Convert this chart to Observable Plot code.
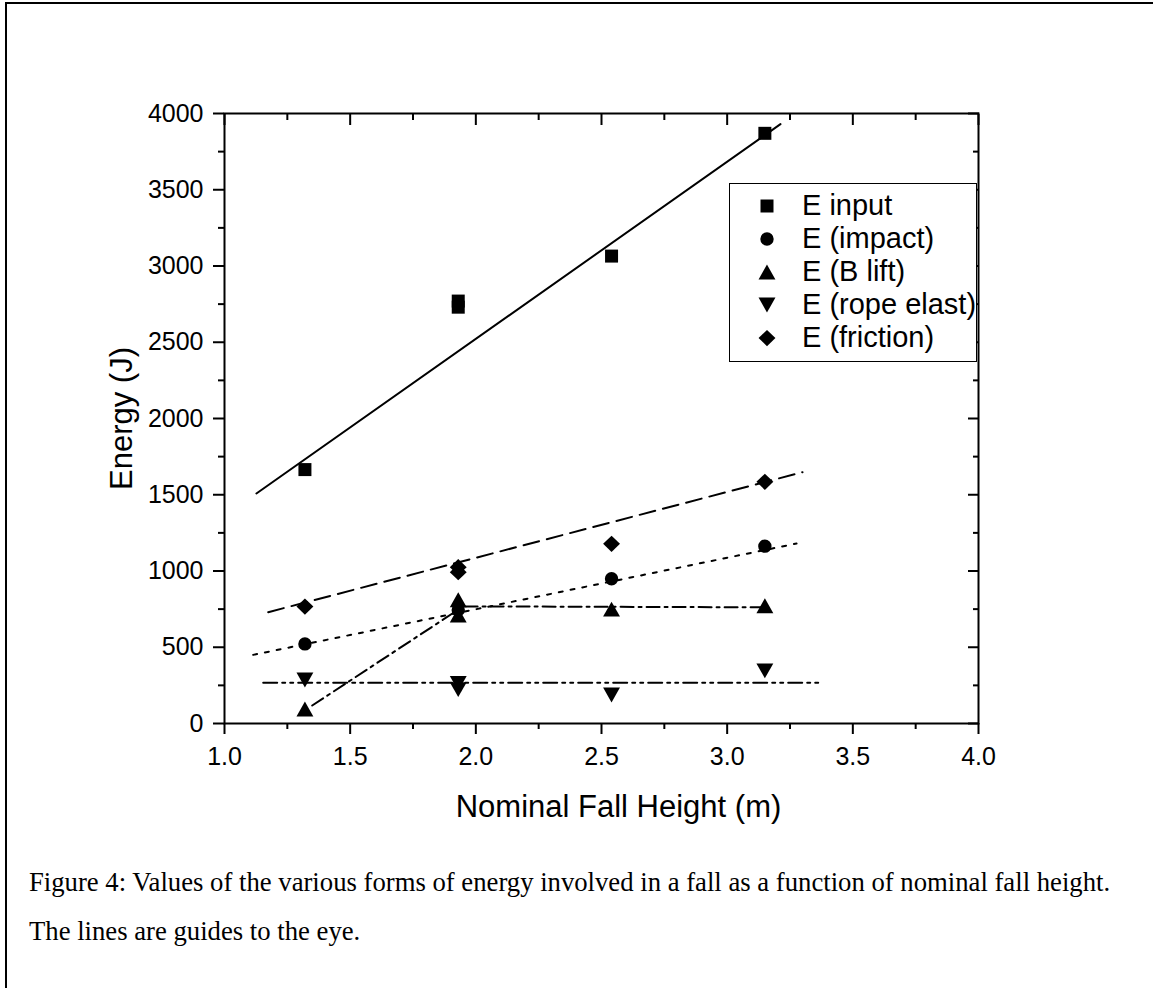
<!DOCTYPE html>
<html>
<head>
<meta charset="utf-8">
<script src="https://cdn.jsdelivr.net/npm/d3@7"></script>
<script src="https://cdn.jsdelivr.net/npm/@observablehq/plot@0.6"></script>
<style>
  html, body { margin: 0; padding: 0; background: #fff; }
  #fig { position: relative; width: 1153px; height: 988px; overflow: hidden; }
  #chart { position: absolute; left: 0; top: 0; }
  .bt { position: absolute; left: 5px; top: 2px; width: 1148px; height: 2px; background: #000; }
  .bl { position: absolute; left: 5px; top: 2px; width: 2px; height: 986px; background: #000; }
  #legend { position: absolute; left: 729px; top: 183px; width: 248px; height: 179px;
            border: 1px solid #000; background: #fff; box-sizing: border-box;
            font-family: "Liberation Sans", Arial, sans-serif; font-size: 29px; color: #000; }
  .row { position: absolute; left: 0; height: 33px; line-height: 33px; white-space: nowrap; }
  .row svg { position: absolute; left: 26px; top: 6px; }
  .row span { position: absolute; left: 72px; top: 0; }
  #caption { position: absolute; left: 29px; top: 858px; width: 1120px;
             font-family: "Liberation Serif", "Times New Roman", serif; font-size: 26.7px;
             line-height: 49px; color: #000; white-space: nowrap; }
</style>
</head>
<body>
<div id="fig">
  <div class="bt"></div>
  <div class="bl"></div>
  <div id="chart"></div>
  <div id="legend"></div>
  <div id="caption">Figure 4: Values of the various forms of energy involved in a fall as a function of nominal fall height.<br>The lines are guides to the eye.</div>
</div>
<script>
// ---------- data ----------
const seriesNames = ["E input", "E (impact)", "E (B lift)", "E (rope elast)", "E (friction)"];

const inputX = [1.32, 1.93, 1.93, 2.54, 3.15];
const inputY = [1665, 2770, 2730, 3065, 3870];

const impactX = [1.32, 1.93, 2.54, 3.15];
const impactY = [522, 745, 949, 1163];

const liftX = [1.32, 1.93, 1.93, 2.54, 3.15];
const liftY = [95, 812, 712, 750, 772];

const ropeX = [1.32, 1.93, 1.93, 2.54, 3.15];
const ropeY = [285, 262, 222, 187, 345];

const frictionX = [1.32, 1.93, 1.93, 2.54, 3.15];
const frictionY = [767, 1025, 992, 1178, 1585];

// guide-to-the-eye lines
const guideInputX = [1.127, 3.212];
const guideInputY = [1508, 3930];
const guideFrictionX = [1.174, 3.30];
const guideFrictionY = [730, 1648];
const guideImpactX = [1.114, 3.276];
const guideImpactY = [450, 1180];
const guideLiftX = [1.349, 1.95, 3.15];
const guideLiftY = [118, 768, 762];
const guideRopeX = [1.154, 3.365];
const guideRopeY = [267, 267];

// ticks
const xMajor = [1.0, 1.5, 2.0, 2.5, 3.0, 3.5, 4.0];
const xMinor = [1.25, 1.75, 2.25, 2.75, 3.25, 3.75];
const yMajor = [0, 500, 1000, 1500, 2000, 2500, 3000, 3500, 4000];
const yMinor = [250, 750, 1250, 1750, 2250, 2750, 3250, 3750];

const xTitle = "Nominal Fall Height (m)";
const yTitle = "Energy (J)";

// ---------- symbols (Origin-like, centred on their bounding box) ----------
const rad = size => Math.sqrt(size / Math.PI);
const symSquare = {draw(c, size) { const s = rad(size); c.moveTo(-s, -s); c.lineTo(s, -s); c.lineTo(s, s); c.lineTo(-s, s); c.closePath(); }};
const symCircle = {draw(c, size) { const s = rad(size) * 1.03; c.moveTo(s, 0); c.arc(0, 0, s, 0, 2 * Math.PI); }};
const symUp = {draw(c, size) { const s = rad(size); c.moveTo(0, -1.15 * s); c.lineTo(1.3 * s, 1.15 * s); c.lineTo(-1.3 * s, 1.15 * s); c.closePath(); }};
const symDown = {draw(c, size) { const s = rad(size); c.moveTo(0, 1.15 * s); c.lineTo(1.3 * s, -1.15 * s); c.lineTo(-1.3 * s, -1.15 * s); c.closePath(); }};
const symDiamond = {draw(c, size) { const s = rad(size); c.moveTo(0, -1.25 * s); c.lineTo(1.3 * s, 0); c.lineTo(0, 1.25 * s); c.lineTo(-1.3 * s, 0); c.closePath(); }};
const symbols = [symSquare, symCircle, symUp, symDown, symDiamond];
const R = 6.5;

const pts = (xs, ys) => xs.map((x, i) => ({x, y: ys[i]}));

const series = [
  pts(inputX, inputY), pts(impactX, impactY), pts(liftX, liftY), pts(ropeX, ropeY), pts(frictionX, frictionY)
];
const guides = [
  {d: pts(guideInputX, guideInputY), dash: null},
  {d: pts(guideFrictionX, guideFrictionY), dash: "16,8"},
  {d: pts(guideImpactX, guideImpactY), dash: "4,8"},
  {d: pts(guideLiftX, guideLiftY), dash: "13,5,3,5"},
  {d: pts(guideRopeX, guideRopeY), dash: "14,5,3,5,3,5"}
];

const W = 1153, H = 830;
const fontFam = '"Liberation Sans", Arial, sans-serif';
const blank = () => "";

const marks = [];
guides.forEach(g => marks.push(Plot.line(g.d, {x: "x", y: "y", stroke: "#000", strokeWidth: 2, strokeDasharray: g.dash})));
series.forEach((s, i) => marks.push(Plot.dot(s, {x: "x", y: "y", r: R, symbol: () => symbols[i], fill: "#000", stroke: "none"})));

marks.push(
  Plot.frame({stroke: "#000", strokeWidth: 2}),
  // bottom axis (outward)
  Plot.axisX({anchor: "bottom", ticks: xMajor, tickSize: 11, tickPadding: 13, tickFormat: d3.format(".1f"), fontSize: 25, strokeWidth: 2, label: null}),
  Plot.axisX({anchor: "bottom", ticks: xMinor, tickSize: 6, tickFormat: blank, strokeWidth: 2, label: null}),
  // top axis (inward)
  Plot.axisX({anchor: "top", ticks: xMajor, tickSize: -11, tickFormat: blank, strokeWidth: 2, label: null}),
  Plot.axisX({anchor: "top", ticks: xMinor, tickSize: -6, tickFormat: blank, strokeWidth: 2, label: null}),
  // left axis (outward)
  Plot.axisY({anchor: "left", ticks: yMajor, tickSize: 11, tickPadding: 10, tickFormat: d3.format("d"), fontSize: 25, strokeWidth: 2, label: null}),
  Plot.axisY({anchor: "left", ticks: yMinor, tickSize: 6, tickFormat: blank, strokeWidth: 2, label: null}),
  // right axis (inward)
  Plot.axisY({anchor: "right", ticks: yMajor, tickSize: -11, tickFormat: blank, strokeWidth: 2, label: null}),
  Plot.axisY({anchor: "right", ticks: yMinor, tickSize: -6, tickFormat: blank, strokeWidth: 2, label: null}),
  // axis titles
  Plot.text([xTitle], {text: d => d, frameAnchor: "bottom", dy: 84, dx: 17, lineAnchor: "middle", fontSize: 31}),
  Plot.text([yTitle], {text: d => d, frameAnchor: "left", dx: -102, rotate: -90, lineAnchor: "middle", textAnchor: "middle", fontSize: 31})
);

const chart = Plot.plot({
  width: W,
  height: H,
  marginLeft: 224,
  marginRight: W - 978,
  marginTop: 113,
  marginBottom: H - 723,
  x: {domain: [1, 4]},
  y: {domain: [0, 4000]},
  style: {fontFamily: fontFam, fontSize: "25px", color: "#000", background: "transparent", overflow: "visible"},
  marks
});
document.getElementById("chart").appendChild(chart);

// ---------- legend ----------
const legend = document.getElementById("legend");
seriesNames.forEach((name, i) => {
  const row = document.createElement("div");
  row.className = "row";
  row.style.top = (5 + i * 33) + "px";
  const path = d3.symbol().type(symbols[i]).size(Math.PI * R * R)();
  row.innerHTML = `<svg width="22" height="22" viewBox="-11 -11 22 22"><path d="${path}" fill="#000"/></svg><span>${name}</span>`;
  legend.appendChild(row);
});
</script>
</body>
</html>
